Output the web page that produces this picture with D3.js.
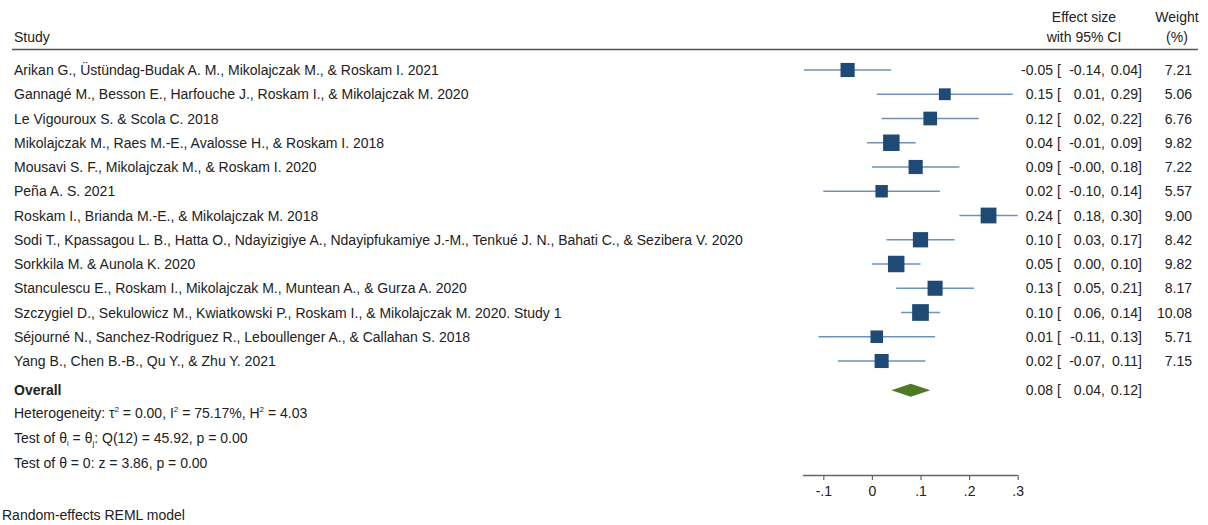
<!DOCTYPE html>
<html>
<head>
<meta charset="utf-8">
<script src="https://cdn.jsdelivr.net/npm/d3@7"></script>
<style>
  html, body { margin: 0; padding: 0; background: #fff; }
  svg text { font-family: "Liberation Sans", Arial, Helvetica, sans-serif; fill: #222; }
</style>
</head>
<body>
<svg id="chart" width="1208" height="525"></svg>
<script>
// Study-level results (effect size, 95% CI, weight %)
const studies = [
  "Arikan G., Üstündag-Budak A. M., Mikolajczak M., & Roskam I. 2021",
  "Gannagé M., Besson E., Harfouche J., Roskam I., & Mikolajczak M. 2020",
  "Le Vigouroux S. & Scola C. 2018",
  "Mikolajczak M., Raes M.-E., Avalosse H., & Roskam I. 2018",
  "Mousavi S. F., Mikolajczak M., & Roskam I. 2020",
  "Peña A. S. 2021",
  "Roskam I., Brianda M.-E., & Mikolajczak M. 2018",
  "Sodi T., Kpassagou L. B., Hatta O., Ndayizigiye A., Ndayipfukamiye J.-M., Tenkué J. N., Bahati C., & Sezibera V. 2020",
  "Sorkkila M. & Aunola K. 2020",
  "Stanculescu E., Roskam I., Mikolajczak M., Muntean A., & Gurza A. 2020",
  "Szczygiel D., Sekulowicz M., Kwiatkowski P., Roskam I., & Mikolajczak M. 2020. Study 1",
  "Séjourné N., Sanchez-Rodriguez R., Leboullenger A., & Callahan S. 2018",
  "Yang B., Chen B.-B., Qu Y., & Zhu Y. 2021"
];
const effect = [-0.05, 0.15, 0.12, 0.04, 0.09, 0.02, 0.24, 0.10, 0.05, 0.13, 0.10, 0.01, 0.02];
const lower  = [-0.14, 0.01, 0.02, -0.01, -0.00, -0.10, 0.18, 0.03, 0.00, 0.05, 0.06, -0.11, -0.07];
const upper  = [0.04, 0.29, 0.22, 0.09, 0.18, 0.14, 0.30, 0.17, 0.10, 0.21, 0.14, 0.13, 0.11];
const weight = [7.21, 5.06, 6.76, 9.82, 7.22, 5.57, 9.00, 8.42, 9.82, 8.17, 10.08, 5.71, 7.15];

// Pooled estimate
const overall = { est: 0.08, lo: 0.04, hi: 0.12 };

// Axis ticks
const tickValues = [-0.1, 0, 0.1, 0.2, 0.3];
const tickLabels = ["-.1", "0", ".1", ".2", ".3"];

const svg = d3.select("#chart");
const FS = 14;
const base = d3.format(".2f");
// two decimals, plain hyphen for negatives, keeps the sign of -0
const fmt = v => (Object.is(v, -0) ? "-" + base(0) : base(v).replace("\u2212", "-"));

const x = d3.scaleLinear().domain([-0.1, 0.3]).range([823.3, 1017.7]);
const y = d3.scaleLinear().domain([0, studies.length]).range([70, 70 + 24.25 * studies.length]);
const side = d3.scaleSqrt().domain([0, d3.max(weight)]).range([0, 16.7]);

const navy = "#1e4a75";
const ciColor = "#6f92b6";
const green = "#4f7a25";

// Header
const hdr = (tx, ty, s, anchor) => svg.append("text").attr("x", tx).attr("y", ty)
  .attr("font-size", FS).attr("text-anchor", anchor || "start").text(s);
hdr(14, 42, "Study");
hdr(1084, 22, "Effect size", "middle");
hdr(1084, 42, "with 95% CI", "middle");
hdr(1177, 22, "Weight", "middle");
hdr(1177, 42, "(%)", "middle");
svg.append("line").attr("x1", 12).attr("x2", 1198).attr("y1", 49.5).attr("y2", 49.5)
  .attr("stroke", "#555").attr("stroke-width", 1.3);

// Study rows
const rows = svg.append("g").selectAll("g").data(studies).join("g")
  .attr("transform", (d, i) => `translate(0,${y(i)})`);

rows.append("text").attr("x", 14).attr("y", 5).attr("font-size", FS).text(d => d);

rows.append("line")
  .attr("x1", (d, i) => x(lower[i])).attr("x2", (d, i) => x(upper[i]))
  .attr("y1", 0).attr("y2", 0)
  .attr("stroke", ciColor).attr("stroke-width", 1.6);

rows.append("rect")
  .attr("x", (d, i) => x(effect[i]) - side(weight[i]) / 2)
  .attr("y", (d, i) => -side(weight[i]) / 2)
  .attr("width", (d, i) => side(weight[i]))
  .attr("height", (d, i) => side(weight[i]))
  .attr("fill", navy);

// Numeric columns: estimate [ lower, upper ]  weight
function ciText(g, est, lo, hi) {
  g.append("text").attr("x", 1053).attr("y", 5).attr("font-size", FS).attr("text-anchor", "end").text(fmt(est));
  g.append("text").attr("x", 1057).attr("y", 5).attr("font-size", FS).text("[");
  g.append("text").attr("x", 1105).attr("y", 5).attr("font-size", FS).attr("text-anchor", "end").text(fmt(lo) + ",");
  g.append("text").attr("x", 1142).attr("y", 5).attr("font-size", FS).attr("text-anchor", "end").text(fmt(hi) + "]");
}
rows.each(function(d, i) {
  const g = d3.select(this);
  ciText(g, effect[i], lower[i], upper[i]);
  g.append("text").attr("x", 1192).attr("y", 5).attr("font-size", FS).attr("text-anchor", "end").text(fmt(weight[i]));
});

// Overall row
const yo = y(studies.length) + 5;
const og = svg.append("g").attr("transform", `translate(0,${yo})`);
og.append("text").attr("x", 14).attr("y", 5).attr("font-size", FS).attr("font-weight", "bold").text("Overall");
og.append("path")
  .attr("d", `M${x(overall.lo)},0 L${x(overall.est)},-6.5 L${x(overall.hi)},0 L${x(overall.est)},6.5 Z`)
  .attr("fill", green);
ciText(og, overall.est, overall.lo, overall.hi);

// Heterogeneity statistics
const stat1 = svg.append("text").attr("x", 14).attr("y", 418).attr("font-size", FS);
stat1.append("tspan").text("Heterogeneity: τ");
stat1.append("tspan").attr("font-size", 8).attr("dy", -6).text("2");
stat1.append("tspan").attr("dy", 6).text(" = 0.00, I");
stat1.append("tspan").attr("font-size", 8).attr("dy", -6).text("2");
stat1.append("tspan").attr("dy", 6).text(" = 75.17%, H");
stat1.append("tspan").attr("font-size", 8).attr("dy", -6).text("2");
stat1.append("tspan").attr("dy", 6).text(" = 4.03");

const stat2 = svg.append("text").attr("x", 14).attr("y", 443).attr("font-size", FS);
stat2.append("tspan").text("Test of θ");
stat2.append("tspan").attr("font-size", 8).attr("dy", 3).text("i");
stat2.append("tspan").attr("dy", -3).text(" = θ");
stat2.append("tspan").attr("font-size", 8).attr("dy", 3).text("j");
stat2.append("tspan").attr("dy", -3).text(": Q(12) = 45.92, p = 0.00");

svg.append("text").attr("x", 14).attr("y", 468).attr("font-size", FS).text("Test of θ = 0: z = 3.86, p = 0.00");

// Axis
const axisG = svg.append("g").attr("transform", "translate(0,475)");
axisG.call(d3.axisBottom(x).tickValues(tickValues).tickFormat((d, i) => tickLabels[i]).tickSize(5).tickSizeOuter(0));
axisG.select(".domain").attr("stroke", "#666").attr("stroke-width", 1.3)
  .attr("d", `M${x(-0.14) - 1},0.5H${x(0.3)}`);
axisG.selectAll(".tick line").attr("stroke", "#666").attr("stroke-width", 1.2);
axisG.selectAll(".tick text").attr("font-size", FS).attr("font-family", "Liberation Sans, Arial, sans-serif").attr("fill", "#222").attr("dy", "0.95em");

// Model note
svg.append("text").attr("x", 2).attr("y", 520).attr("font-size", FS).text("Random-effects REML model");
</script>
</body>
</html>
